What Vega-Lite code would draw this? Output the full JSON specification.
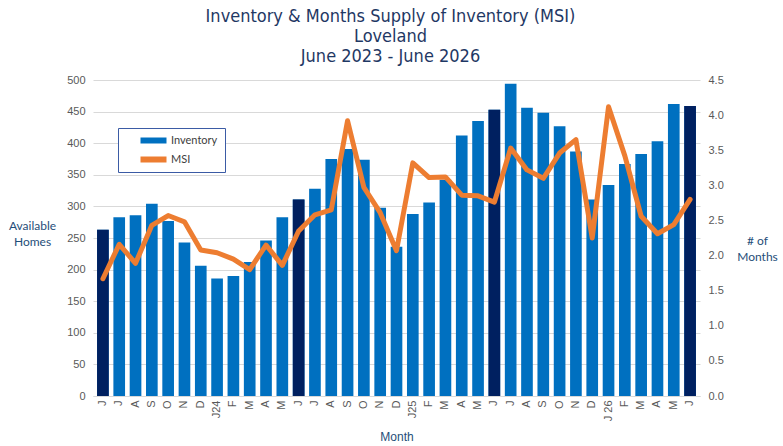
{
  "$schema": "https://vega.github.io/schema/vega-lite/v6.json",
  "autosize": {"type": "none"},
  "padding": {"left": 93, "top": 80, "right": 83, "bottom": 50},
  "width": 607,
  "height": 316,
  "background": "white",
  "title": {
    "text": ["Inventory & Months Supply of Inventory (MSI)", "Loveland", "June 2023 - June 2026"],
    "anchor": "middle",
    "dx": -6,
    "fontSize": 18,
    "font": "Liberation Sans Narrow, Arial Narrow, DejaVu Sans Condensed, sans-serif",
    "fontWeight": "normal",
    "color": "#1F3864",
    "lineHeight": 20,
    "offset": 8
  },
  "config": {
    "view": {"stroke": null},
    "axis": {
      "labelFont": "Liberation Sans Narrow, Arial Narrow, sans-serif",
      "labelFontSize": 11,
      "labelColor": "#595959",
      "labelOverlap": false,
      "titleFontWeight": "normal",
      "titleColor": "#1F4E79",
      "titleFontSize": 12,
      "gridColor": "#D9D9D9",
      "domain": false,
      "ticks": false
    },
    "legend": {
      "labelFont": "Lato, Open Sans, sans-serif",
      "labelFontSize": 11,
      "labelColor": "#404040"
    }
  },
  "data": {
    "values": [
      {"month": "2023-06", "inventory": 263, "msi": 1.67},
      {"month": "2023-07", "inventory": 283, "msi": 2.16},
      {"month": "2023-08", "inventory": 286, "msi": 1.89},
      {"month": "2023-09", "inventory": 304, "msi": 2.43},
      {"month": "2023-10", "inventory": 277, "msi": 2.57},
      {"month": "2023-11", "inventory": 243, "msi": 2.48},
      {"month": "2023-12", "inventory": 206, "msi": 2.08},
      {"month": "2024-01", "inventory": 186, "msi": 2.04},
      {"month": "2024-02", "inventory": 190, "msi": 1.95},
      {"month": "2024-03", "inventory": 212, "msi": 1.80},
      {"month": "2024-04", "inventory": 246, "msi": 2.15},
      {"month": "2024-05", "inventory": 283, "msi": 1.86},
      {"month": "2024-06", "inventory": 311, "msi": 2.35},
      {"month": "2024-07", "inventory": 328, "msi": 2.58},
      {"month": "2024-08", "inventory": 375, "msi": 2.65},
      {"month": "2024-09", "inventory": 391, "msi": 3.92},
      {"month": "2024-10", "inventory": 374, "msi": 2.97},
      {"month": "2024-11", "inventory": 298, "msi": 2.61},
      {"month": "2024-12", "inventory": 236, "msi": 2.07},
      {"month": "2025-01", "inventory": 288, "msi": 3.32},
      {"month": "2025-02", "inventory": 306, "msi": 3.11},
      {"month": "2025-03", "inventory": 342, "msi": 3.12},
      {"month": "2025-04", "inventory": 412, "msi": 2.86},
      {"month": "2025-05", "inventory": 435, "msi": 2.85},
      {"month": "2025-06", "inventory": 453, "msi": 2.76},
      {"month": "2025-07", "inventory": 494, "msi": 3.53},
      {"month": "2025-08", "inventory": 456, "msi": 3.22},
      {"month": "2025-09", "inventory": 448, "msi": 3.10},
      {"month": "2025-10", "inventory": 427, "msi": 3.46},
      {"month": "2025-11", "inventory": 387, "msi": 3.65},
      {"month": "2025-12", "inventory": 311, "msi": 2.25},
      {"month": "2026-01", "inventory": 334, "msi": 4.12},
      {"month": "2026-02", "inventory": 367, "msi": 3.42},
      {"month": "2026-03", "inventory": 383, "msi": 2.56},
      {"month": "2026-04", "inventory": 403, "msi": 2.31},
      {"month": "2026-05", "inventory": 462, "msi": 2.44},
      {"month": "2026-06", "inventory": 459, "msi": 2.80}
    ]
  },
  "encoding": {
    "x": {
      "field": "month",
      "type": "ordinal",
      "scale": {"paddingInner": 0.285, "paddingOuter": 0.25},
      "axis": {
        "title": "Month",
        "titleFont": "Liberation Sans Narrow, Arial Narrow, sans-serif",
        "titleY": 40,
        "titleBaseline": "middle",
        "labelAngle": -90,
        "labelPadding": 4,
        "domain": true,
        "domainColor": "#D9D9D9",
        "labelExpr": "datum.value == '2024-01' ? 'J24' : datum.value == '2025-01' ? 'J25' : datum.value == '2026-01' ? 'J 26' : substring('JFMAMJJASOND', toNumber(substring(datum.value, 5, 7)) - 1, toNumber(substring(datum.value, 5, 7)))"
      }
    }
  },
  "layer": [
    {
      "encoding": {
        "y": {
          "field": "inventory",
          "type": "quantitative",
          "scale": {"domain": [0, 500]},
          "axis": {
            "title": ["Available", "Homes"],
            "titleFont": "Lato, Open Sans, sans-serif",
            "titleAngle": 0,
            "titleAlign": "center",
            "titleBaseline": "middle",
            "titleX": -61,
            "titleY": 145,
            "titleLineHeight": 16,
            "values": [0, 50, 100, 150, 200, 250, 300, 350, 400, 450, 500],
            "labelPadding": 8
          }
        }
      },
      "layer": [
        {
          "mark": {"type": "bar"},
          "encoding": {
            "color": {
              "datum": "Inventory",
              "scale": {"domain": ["Inventory", "MSI"], "range": ["#0070C0", "#ED7D31"]},
              "legend": {
                "title": null,
                "orient": "none",
                "legendX": 25,
                "legendY": 48,
                "padding": 7,
                "symbolOffset": 23,
                "symbolType": "M-2.6,-0.6H2.6V0.6H-2.6Z",
                "symbolSize": 100,
                "symbolStrokeWidth": 0,
                "labelOffset": 12,
                "rowPadding": 7,
                "strokeColor": "#3B5BA5",
                "fillColor": "white",
                "encode": {
                  "symbols": {
                    "update": {
                      "fill": {"scale": "color", "field": "value"},
                      "fillOpacity": {"value": 1},
                      "strokeWidth": {"value": 0}
                    }
                  }
                }
              }
            }
          }
        },
        {
          "transform": [{"filter": "substring(datum.month, 5, 7) == '06'"}],
          "mark": {"type": "bar", "color": "#002060"}
        }
      ]
    },
    {
      "mark": {"type": "line", "strokeWidth": 5, "strokeJoin": "round", "strokeCap": "round"},
      "encoding": {
        "y": {
          "field": "msi",
          "type": "quantitative",
          "scale": {"domain": [0, 4.5]},
          "axis": {
            "orient": "right",
            "title": ["# of", "Months"],
            "titleFont": "Lato, Open Sans, sans-serif",
            "titleAngle": 0,
            "titleAlign": "center",
            "titleBaseline": "middle",
            "titleX": 57,
            "titleY": 160,
            "titleLineHeight": 16,
            "format": ".1f",
            "values": [0, 0.5, 1, 1.5, 2, 2.5, 3, 3.5, 4, 4.5],
            "grid": false,
            "labelPadding": 8
          }
        },
        "color": {"datum": "MSI"}
      }
    }
  ],
  "resolve": {"scale": {"y": "independent"}}
}
